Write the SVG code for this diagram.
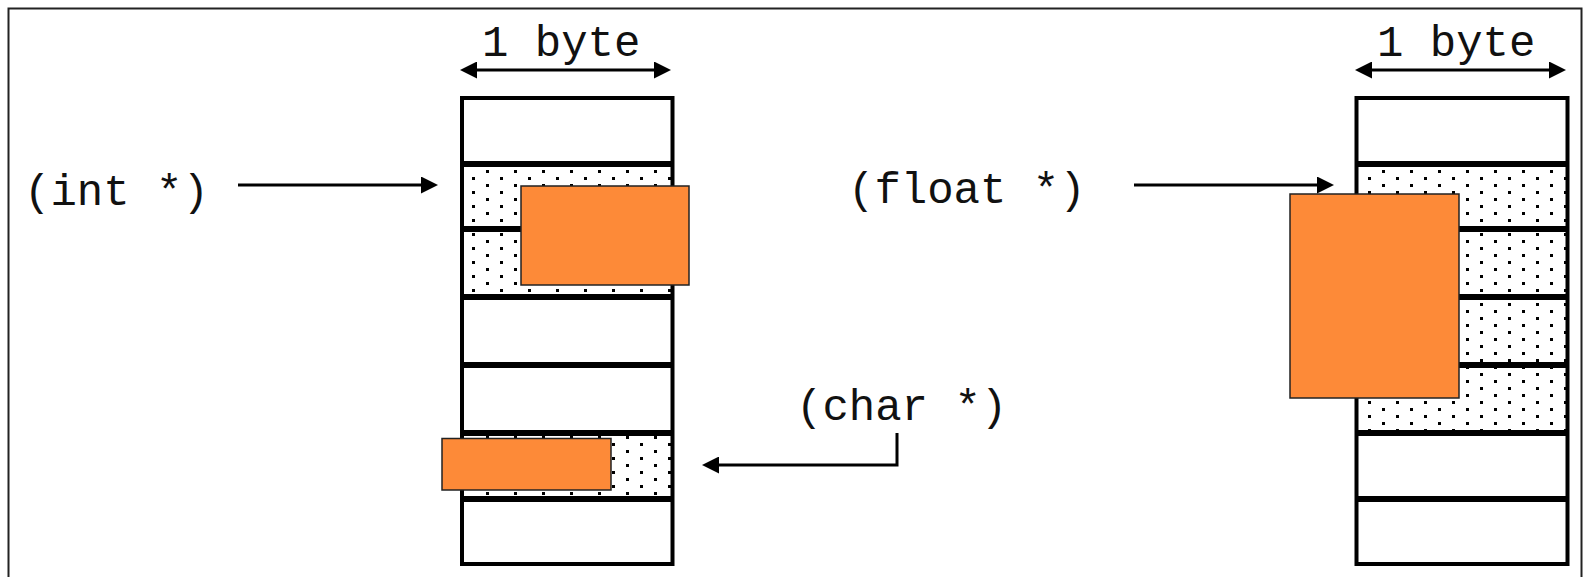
<svg xmlns="http://www.w3.org/2000/svg" width="1583" height="577" viewBox="0 0 1583 577">
  <style>
    .lbl { font-family: "Liberation Mono", "Courier New", monospace; font-size: 44px; fill: #111; }
    .cell { fill: #fff; }
    .dots { fill: url(#dotFill); }
    .divider { stroke: #000; stroke-width: 6; }
    .frame { fill: none; stroke: #000; stroke-width: 4; }
    .value { fill: #fd8a38; stroke: #222; stroke-width: 1.5; }
    .conn { fill: none; stroke: #000; stroke-width: 3; }
  </style>
  <defs>
    <!-- sparse staggered dots used for the bytes a pointer covers -->
    <pattern id="dotFill" patternUnits="userSpaceOnUse" x="10" y="170" width="28" height="14">
      <rect width="28" height="14" fill="#fff"/>
      <rect x="0" y="0" width="3" height="3" fill="#000"/>
      <rect x="14" y="7" width="3" height="3" fill="#000"/>
    </pattern>
    <marker id="head" viewBox="0 0 17 17" markerWidth="17" markerHeight="17" markerUnits="userSpaceOnUse" refX="0" refY="8.5" orient="auto-start-reverse">
      <path d="M0,0 L17,8.5 L0,17 Z" fill="#000"/>
    </marker>
  </defs>

  <rect x="0" y="0" width="1583" height="577" fill="#fff"/>
  <rect x="8.5" y="8.5" width="1573" height="600" fill="none" stroke="#222" stroke-width="2"/>

  <!-- left memory column: 7 bytes -->
  <g id="col-left">
    <rect class="cell" x="462" y="98" width="210.5" height="466"/>
    <rect class="dots" x="462" y="164" width="210.5" height="133"/>
    <rect class="dots" x="462" y="433" width="210.5" height="66"/>
    <line class="divider" x1="462" y1="164" x2="672.5" y2="164"/>
    <line class="divider" x1="462" y1="229" x2="672.5" y2="229"/>
    <line class="divider" x1="462" y1="297" x2="672.5" y2="297"/>
    <line class="divider" x1="462" y1="365" x2="672.5" y2="365"/>
    <line class="divider" x1="462" y1="433" x2="672.5" y2="433"/>
    <line class="divider" x1="462" y1="499" x2="672.5" y2="499"/>
    <rect class="frame" x="462" y="98" width="210.5" height="466"/>
  </g>

  <!-- right memory column: 7 bytes -->
  <g id="col-right">
    <rect class="cell" x="1356.5" y="98" width="211" height="466"/>
    <rect class="dots" x="1356.5" y="164" width="211" height="269"/>
    <line class="divider" x1="1356.5" y1="164" x2="1567.5" y2="164"/>
    <line class="divider" x1="1356.5" y1="229" x2="1567.5" y2="229"/>
    <line class="divider" x1="1356.5" y1="297" x2="1567.5" y2="297"/>
    <line class="divider" x1="1356.5" y1="365" x2="1567.5" y2="365"/>
    <line class="divider" x1="1356.5" y1="433" x2="1567.5" y2="433"/>
    <line class="divider" x1="1356.5" y1="499" x2="1567.5" y2="499"/>
    <rect class="frame" x="1356.5" y="98" width="211" height="466"/>
  </g>

  <!-- values read through each pointer type -->
  <g id="int-value"><rect class="value" x="521" y="186" width="168" height="99"/></g>
  <g id="char-value"><rect class="value" x="442" y="438.5" width="169" height="51.5"/></g>
  <g id="float-value"><rect class="value" x="1290" y="194" width="169" height="204"/></g>

  <!-- labels -->
  <g id="byte-left"><text class="lbl" x="482" y="56">1 byte</text></g>
  <g id="byte-right"><text class="lbl" x="1377" y="56">1 byte</text></g>
  <g id="label-int"><text class="lbl" x="24" y="205">(int *)</text></g>
  <g id="label-float"><text class="lbl" x="848" y="203">(float *)</text></g>
  <g id="label-char"><text class="lbl" x="796" y="420">(char *)</text></g>

  <!-- connectors -->
  <g id="connectors">
    <path class="conn" d="M477,70 H654" marker-start="url(#head)" marker-end="url(#head)"/>
    <path class="conn" d="M1372,70 H1549" marker-start="url(#head)" marker-end="url(#head)"/>
    <path class="conn" d="M238,185 H421" marker-end="url(#head)"/>
    <path class="conn" d="M1134,185 H1317" marker-end="url(#head)"/>
    <path class="conn" d="M897,433 V465 H719" marker-end="url(#head)"/>
  </g>
</svg>
